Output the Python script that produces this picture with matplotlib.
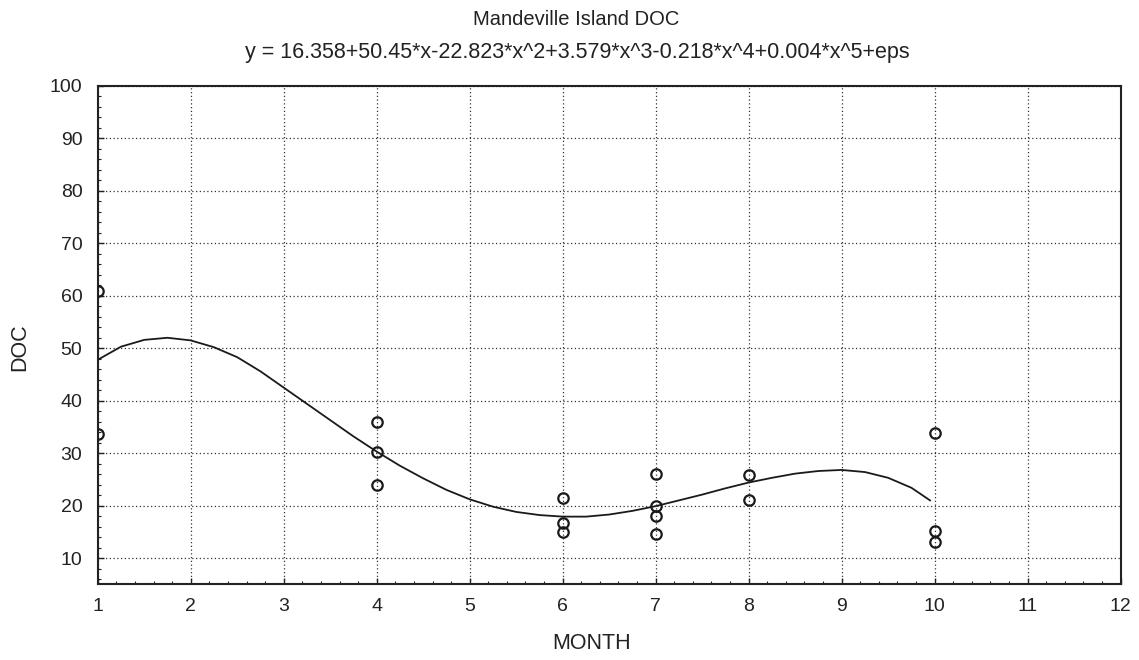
import matplotlib
matplotlib.use("Agg")
import matplotlib.pyplot as plt
from matplotlib.ticker import AutoMinorLocator

# Observed data
month = [1, 1, 4, 4, 4, 6, 6, 6, 7, 7, 7, 7, 8, 8, 10, 10, 10]
doc = [61.0, 33.6, 35.9, 30.3, 23.9, 21.5, 16.6, 15.0, 26.0, 20.0, 18.0, 14.5, 25.9, 21.0, 33.9, 15.1, 13.0]

# Fitted curve
fit_x = [1.0, 1.25, 1.5, 1.75, 2.0, 2.25, 2.5, 2.75, 3.0, 3.25, 3.5, 3.75, 4.0, 4.25,
         4.5, 4.75, 5.0, 5.25, 5.5, 5.75, 6.0, 6.25, 6.5, 6.75, 7.0, 7.25, 7.5, 7.75,
         8.0, 8.25, 8.5, 8.75, 9.0, 9.25, 9.5, 9.75, 9.95]
fit_y = [47.8, 50.3, 51.6, 52.0, 51.5, 50.2, 48.3, 45.6, 42.5, 39.4, 36.3, 33.2, 30.3, 27.6,
         25.2, 23.0, 21.2, 19.8, 18.8, 18.2, 17.9, 17.9, 18.3, 19.0, 19.9, 21.0, 22.1, 23.3,
         24.4, 25.3, 26.1, 26.6, 26.8, 26.4, 25.3, 23.4, 21.0]

x_ticks = list(range(1, 13))
y_ticks = [10, 20, 30, 40, 50, 60, 70, 80, 90, 100]

title1 = "Mandeville Island DOC"
title2 = "y = 16.358+50.45*x-22.823*x^2+3.579*x^3-0.218*x^4+0.004*x^5+eps"

plt.rcParams['font.family'] = ['Liberation Sans', 'DejaVu Sans']

fig = plt.figure(figsize=(11.39, 6.60), dpi=100)
ax = fig.add_axes([0.0858, 0.1147, 0.8981, 0.755])

ax.plot(fit_x, fit_y, color='#1a1a1a', lw=1.3, zorder=3)
ax.plot(month, doc, linestyle='none', marker='o', markersize=7.5,
        markerfacecolor='none', markeredgecolor='#1a1a1a', markeredgewidth=1.6, zorder=4)

ax.set_xlim(1, 12)
ax.set_ylim(5, 100)
ax.set_xticks(x_ticks)
ax.set_yticks(y_ticks)
ax.xaxis.set_minor_locator(AutoMinorLocator(5))
ax.yaxis.set_minor_locator(AutoMinorLocator(5))
ax.tick_params(which='both', direction='in', colors='#222222', labelsize=14)
ax.tick_params(which='major', length=4, width=1)
ax.tick_params(which='minor', length=2.5, width=0.8)
ax.tick_params(axis='y', pad=11)
ax.tick_params(axis='x', pad=10)
ax.grid(True, which='major', linestyle=(0, (1, 2)), color='#333333', linewidth=0.9)
for s in ax.spines.values():
    s.set_linewidth(1.5)
    s.set_color('#222222')

ax.set_xlabel("MONTH", fontsize=15.5, color='#222222')
ax.set_ylabel("DOC", fontsize=15.5, color='#222222')
ax.xaxis.set_label_coords(0.483, -0.118)
ax.xaxis.label.set_va('center')
ax.yaxis.set_label_coords(-0.076, 0.476)
ax.yaxis.label.set_va('center')

fig.text(0.506, 0.962, title1, ha='center', va='baseline', fontsize=14.5, color='#222222')
fig.text(0.507, 0.9117, title2, ha='center', va='baseline', fontsize=15.5, color='#222222')

fig.savefig("out.png", dpi=100)
